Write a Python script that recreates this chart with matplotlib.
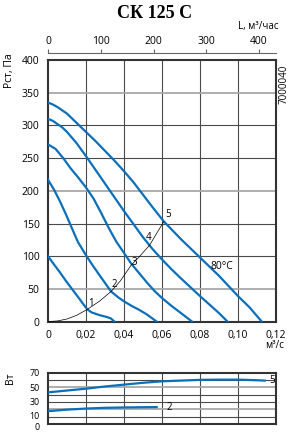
import matplotlib.pyplot as plt
from matplotlib.transforms import ScaledTranslation

plt.rcParams['font.family'] = ['Open Sans', 'DejaVu Sans']

# pressure curves (Q in m3/s, P in Pa), speeds 1..5
q1 = [0, 0.003, 0.0061, 0.0095, 0.0131, 0.0165, 0.0185, 0.0206, 0.023, 0.027, 0.031, 0.033, 0.035]
p1 = [100, 88, 76, 62, 48, 35, 27, 19, 14, 10, 7, 5, 0]

q2 = [0, 0.0035, 0.0066, 0.0096, 0.0127, 0.0157, 0.0201, 0.0235, 0.0271, 0.0332, 0.037, 0.04, 0.044, 0.048, 0.052, 0.0572]
p2 = [217, 200, 182, 163, 142, 122, 101, 86, 71, 46, 37, 31, 24, 18, 11, 0]

q3 = [0, 0.004, 0.008, 0.012, 0.016, 0.02, 0.024, 0.028, 0.032, 0.036, 0.04, 0.0437, 0.048, 0.052, 0.056, 0.06, 0.065, 0.07, 0.0758]
p3 = [271, 264, 250, 234, 220, 205, 188, 166, 143, 122, 105, 89, 74, 60, 47, 36, 24, 13, 0]

q4 = [0, 0.0025, 0.005, 0.0075, 0.01, 0.015, 0.02, 0.025, 0.03, 0.035, 0.04, 0.045, 0.05, 0.055, 0.06, 0.065, 0.07, 0.08, 0.09, 0.0945]
p4 = [310, 307, 302, 297, 290, 273, 253, 232, 211, 190, 169, 149, 129, 111, 95, 80, 66, 39, 13, 0]

q5 = [0, 0.0025, 0.005, 0.0075, 0.01, 0.015, 0.02, 0.025, 0.03, 0.035, 0.04, 0.045, 0.05, 0.055, 0.061, 0.07, 0.08, 0.09, 0.1, 0.106, 0.1125]
p5 = [335, 332, 328, 323, 318, 304, 290, 276, 261, 246, 230, 213, 194, 175, 153, 126, 98, 70, 39, 22, 0]

# network curve through the operating points
qs = [0, 0.005, 0.01, 0.015, 0.0206, 0.027, 0.0332, 0.038, 0.0437, 0.048, 0.0535, 0.057, 0.061]
ps = [0, 1, 4, 9.5, 18.5, 31, 46, 62, 86, 99, 117, 134, 153]

# power consumption, W
qw5 = [0, 0.01, 0.02, 0.03, 0.04, 0.05, 0.06, 0.07, 0.08, 0.09, 0.1, 0.11, 0.114]
w5 = [43, 45.5, 48, 51, 53.5, 56, 58, 59, 60, 60.3, 60.3, 59.5, 59]
qw2 = [0, 0.01, 0.02, 0.03, 0.04, 0.05, 0.0572]
w2 = [17.4, 19.5, 21, 22, 22.5, 22.8, 23]

blue = '#0b6fba'
grid = '#4a4a4a'
light = '#a8a8a8'

fig = plt.figure(figsize=(2.91, 4.32), dpi=100)
ax = fig.add_axes([48 / 291, 1 - 321.6 / 432, 228 / 291, 261.6 / 432])

xt = [0, 0.02, 0.04, 0.06, 0.08, 0.10, 0.12]
for x in xt[1:-1]:
    ax.axvline(x, color=grid, lw=0.8, zorder=1)
for y in range(50, 400, 50):
    if y in (50, 200, 350):
        ax.axhline(y, color=light, lw=1.3, zorder=1)
    else:
        ax.axhline(y, color=grid, lw=0.8, zorder=1)

for q, p in [(q1, p1), (q2, p2), (q3, p3), (q4, p4), (q5, p5)]:
    ax.plot(q, p, color=blue, lw=1.6, zorder=3)
ax.plot(qs, ps, color='black', lw=0.5, zorder=4)

for lab, x, y in [('1', 0.0225, 28), ('2', 0.0347, 57), ('3', 0.0454, 91),
                  ('4', 0.0527, 128), ('5', 0.063, 164)]:
    ax.text(x, y, lab, fontsize=7, ha='center', va='center', zorder=5)
ax.text(0.0914, 85, '80°C', fontsize=7.5, ha='center', va='center', zorder=5)

ax.set_xlim(0, 0.12)
ax.set_ylim(0, 400)
ax.set_xticks(xt)
ax.set_xticklabels(['0', '0,02', '0,04', '0,06', '0,08', '0,10', '0,12'])
ax.set_yticks(range(0, 401, 50))
ax.tick_params(length=0, labelsize=7.5, pad=6)
for s in ax.spines.values():
    s.set_linewidth(1.5)
    s.set_color('#333333')

sec = ax.secondary_xaxis(1 + 7 / 261.6, functions=(lambda q: q * 3600, lambda l: l / 3600))
sec.set_xticks([0, 100, 200, 300, 400])
sec.tick_params(direction='out', length=3, width=0.8, color='#666666', labelsize=7.5, pad=1)
sec.spines['top'].set_linewidth(0.8)
sec.spines['top'].set_color('#666666')

# power chart
ax2 = fig.add_axes([48 / 291, 8 / 432, 228 / 291, 51.5 / 432])
for x in xt[1:-1]:
    ax2.axvline(x, color=grid, lw=0.8, zorder=1)
for y in range(10, 70, 10):
    if y in (20, 50):
        ax2.axhline(y, color=light, lw=1.3, zorder=1)
    else:
        ax2.axhline(y, color=grid, lw=0.8, zorder=1)
ax2.plot(qw5, w5, color=blue, lw=1.6, zorder=3)
ax2.plot(qw2, w2, color=blue, lw=1.6, zorder=3)
ax2.text(0.1165, 59, '5', fontsize=7, ha='left', va='center')
ax2.text(0.0625, 23, '2', fontsize=7, ha='left', va='center')
ax2.set_xlim(0, 0.12)
ax2.set_ylim(0, 70)
ax2.set_xticks([])
ax2.set_yticks([0, 10, 30, 50, 70])
ax2.tick_params(length=0, labelsize=6.4, pad=6)
# nudge the crowded bottom labels apart a little
for tick, dy in zip(ax2.yaxis.get_major_ticks()[:2], (-2, 1)):
    lbl = tick.label1
    lbl.set_transform(lbl.get_transform() + ScaledTranslation(0, dy / 100, fig.dpi_scale_trans))
for s in ax2.spines.values():
    s.set_linewidth(1.5)
    s.set_color('#333333')

fig.text(155 / 291, 1 - 14 / 432, 'СК 125 С', fontsize=13, fontweight='bold',
         family='Liberation Serif', ha='center', va='center')
fig.text(278 / 291, 1 - 26 / 432, 'L, м³/час', fontsize=7, ha='right', va='center')
fig.text(9.5 / 291, 1 - 71 / 432, 'Рст, Па', fontsize=7.5, rotation=90, ha='center', va='center')
fig.text(10 / 291, 1 - 378 / 432, 'Вт', fontsize=7.5, rotation=90, ha='center', va='center')
fig.text(284 / 291, 1 - 346 / 432, 'м³/с', fontsize=7, ha='right', va='center')
fig.text(284 / 291, 1 - 84 / 432, '7000040', fontsize=7, rotation=90, ha='center', va='center')

fig.savefig('out.png', dpi=100)
